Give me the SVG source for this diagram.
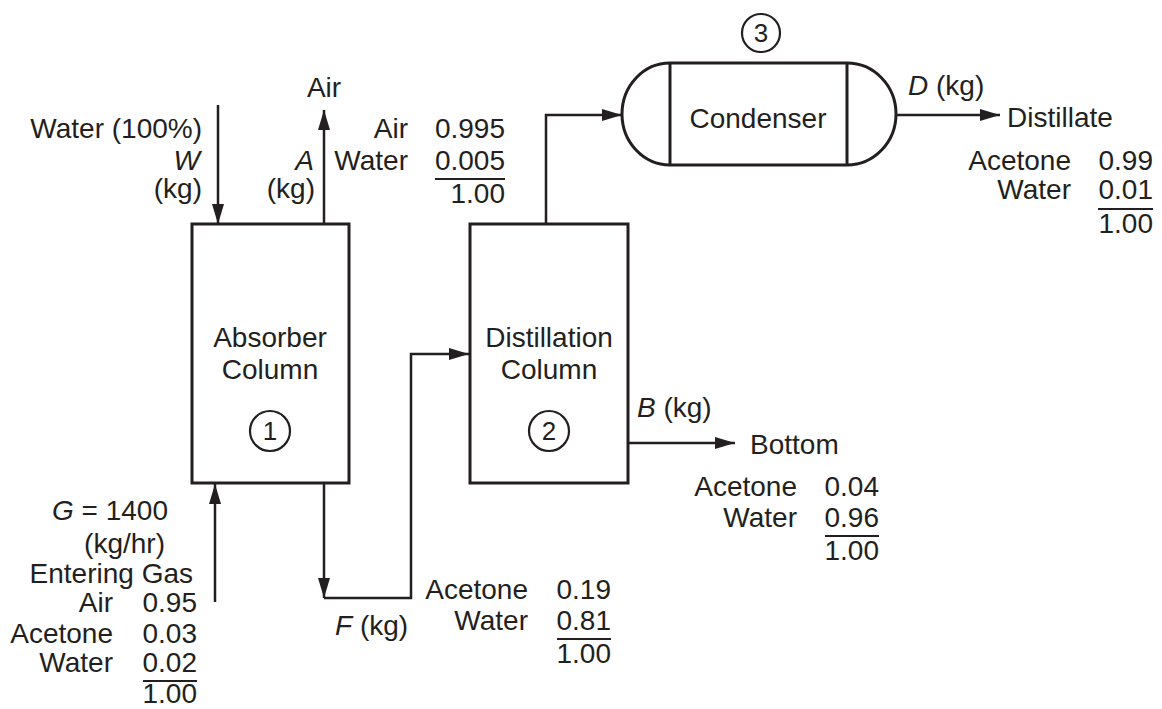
<svg xmlns="http://www.w3.org/2000/svg" width="1162" height="709" viewBox="0 0 1162 709">
<defs>
<style>
text{font-family:"Liberation Sans",Arial,Helvetica,sans-serif;font-size:28px;fill:#231f20}
.e{text-anchor:end}
.m{text-anchor:middle}
.i{font-style:italic}
.n{font-size:26px}
.box{fill:none;stroke:#231f20;stroke-width:3}
.ring{fill:none;stroke:#231f20;stroke-width:2.2}
.flow{fill:none;stroke:#231f20;stroke-width:2.5}
.rule{stroke:#231f20;stroke-width:2}
</style>
<marker id="ah" markerUnits="userSpaceOnUse" markerWidth="20" markerHeight="12" refX="20" refY="6" orient="auto">
<path d="M0,0 L20,6 L0,12 Z" fill="#231f20"/>
</marker>
</defs>
<rect width="1162" height="709" fill="#fff"/>

<g id="absorber">
<rect class="box" x="192" y="224" width="157" height="259"/>
<text class="m" x="270" y="347">Absorber</text>
<text class="m" x="270" y="379">Column</text>
<circle class="ring" cx="270" cy="431" r="20"/>
<text class="m n" x="270" y="440">1</text>
</g>

<g id="distillation">
<rect class="box" x="470" y="224" width="158" height="259"/>
<text class="m" x="549" y="347">Distillation</text>
<text class="m" x="549" y="379">Column</text>
<circle class="ring" cx="549" cy="431" r="20"/>
<text class="m n" x="549" y="440">2</text>
</g>

<g id="condenser">
<path class="box" d="M670,63 L847,63 A49,51 0 0 1 847,165 L670,165 A48,51 0 0 1 670,63 Z"/>
<line class="box" x1="670" y1="63" x2="670" y2="165"/>
<line class="box" x1="847" y1="63" x2="847" y2="165"/>
<text class="m" x="758" y="128">Condenser</text>
<circle class="ring" cx="761" cy="33" r="19"/>
<text class="m n" x="761" y="42">3</text>
</g>

<g id="connectors">
<line class="flow" x1="218" y1="105" x2="218" y2="224" marker-end="url(#ah)"/>
<line class="flow" x1="324" y1="224" x2="324" y2="110" marker-end="url(#ah)"/>
<line class="flow" x1="215" y1="602" x2="215" y2="484" marker-end="url(#ah)"/>
<line class="flow" x1="324" y1="483" x2="324" y2="598" marker-end="url(#ah)"/>
<polyline class="flow" points="324,598 411,598 411,354 469,354" marker-end="url(#ah)"/>
<polyline class="flow" points="546,224 546,115 622,115" marker-end="url(#ah)"/>
<line class="flow" x1="896" y1="115" x2="1000" y2="115" marker-end="url(#ah)"/>
<line class="flow" x1="628" y1="443" x2="735" y2="443" marker-end="url(#ah)"/>
</g>

<g id="water-feed">
<text class="e" x="202" y="138">Water (100%)</text>
<text class="e i" x="200" y="170">W</text>
<text class="e" x="202" y="198">(kg)</text>
</g>

<g id="air-out">
<text class="m" x="324" y="97">Air</text>
<text class="e i" x="314" y="170">A</text>
<text class="e" x="315" y="198">(kg)</text>
<text class="e" x="408" y="138">Air</text>
<text class="e" x="505" y="138">0.995</text>
<text class="e" x="408" y="170">Water</text>
<text class="e" x="505" y="170">0.005</text>
<line class="rule" x1="435" y1="179" x2="505" y2="179"/>
<text class="e" x="505" y="203">1.00</text>
</g>

<g id="distillate">
<text x="908" y="95"><tspan class="i">D</tspan> (kg)</text>
<text x="1007" y="127">Distillate</text>
<text class="e" x="1071" y="170">Acetone</text>
<text class="e" x="1153" y="170">0.99</text>
<text class="e" x="1071" y="199">Water</text>
<text class="e" x="1153" y="199">0.01</text>
<line class="rule" x1="1098" y1="209" x2="1153" y2="209"/>
<text class="e" x="1153" y="233">1.00</text>
</g>

<g id="bottom">
<text x="637" y="417"><tspan class="i">B</tspan> (kg)</text>
<text x="750" y="454">Bottom</text>
<text class="e" x="797" y="496">Acetone</text>
<text class="e" x="879" y="496">0.04</text>
<text class="e" x="797" y="527">Water</text>
<text class="e" x="879" y="527">0.96</text>
<line class="rule" x1="825" y1="536" x2="879" y2="536"/>
<text class="e" x="879" y="560">1.00</text>
</g>

<g id="feed-f">
<text x="335" y="635"><tspan class="i">F</tspan> (kg)</text>
<text class="e" x="528" y="599">Acetone</text>
<text class="e" x="611" y="599">0.19</text>
<text class="e" x="528" y="630">Water</text>
<text class="e" x="611" y="630">0.81</text>
<line class="rule" x1="557" y1="639" x2="611" y2="639"/>
<text class="e" x="611" y="663">1.00</text>
</g>

<g id="entering-gas">
<text class="e" x="168" y="520"><tspan class="i">G</tspan> = 1400</text>
<text class="e" x="165" y="553">(kg/hr)</text>
<text class="e" x="193" y="583">Entering Gas</text>
<text class="e" x="113" y="612">Air</text>
<text class="e" x="197" y="612">0.95</text>
<text class="e" x="113" y="643">Acetone</text>
<text class="e" x="197" y="643">0.03</text>
<text class="e" x="113" y="672">Water</text>
<text class="e" x="197" y="672">0.02</text>
<line class="rule" x1="143" y1="681" x2="197" y2="681"/>
<text class="e" x="197" y="703">1.00</text>
</g>
</svg>
